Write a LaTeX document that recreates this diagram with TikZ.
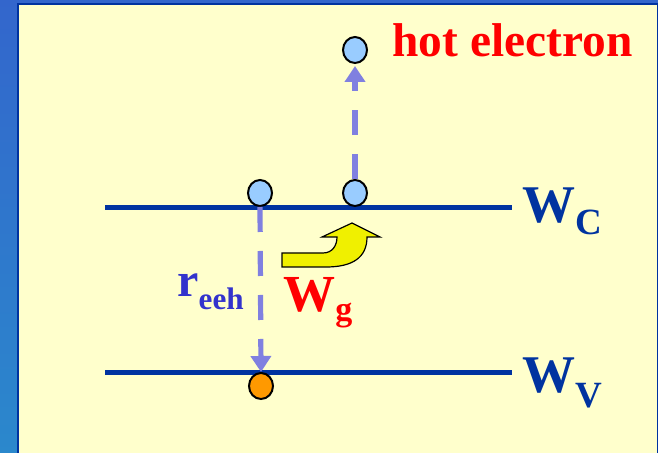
\documentclass[tikz,border=0pt]{standalone}
\usepackage{fontspec}
\setmainfont{Liberation Serif}
\usetikzlibrary{arrows.meta,shapes.geometric}
\definecolor{bandBlue}{RGB}{0,51,160}
\definecolor{labelBlue}{RGB}{51,51,204}
\definecolor{hopViolet}{RGB}{128,128,224}
\definecolor{elecFill}{RGB}{153,204,255}
\definecolor{holeFill}{RGB}{255,153,0}
\definecolor{slideYellow}{RGB}{255,255,204}
\definecolor{arrowYellow}{RGB}{240,240,0}
\begin{document}
\begin{tikzpicture}[
    x=0.5pt, y=-0.5pt,
    band/.style={line width=2.5pt, draw=bandBlue},
    carrier/.style={
        ellipse, draw=black, line width=1pt,
        minimum width=12pt, minimum height=13pt, inner sep=0pt
    },
    electron/.style={carrier, fill=elecFill},
    hole/.style={carrier, fill=holeFill},
    hop/.style={
        draw=hopViolet, line width=2.6pt,
        dash pattern=on 12.5pt off 9.5pt,
        -{Triangle[width=10pt,length=8pt]}
    },
    bigLabel/.style={anchor=base west, inner sep=0pt, font=\bfseries}
]
    \useasboundingbox (0,0) rectangle (658,453);

    % --- slide background ---
    \shade[top color={rgb,255:red,51;green,102;blue,204},
           bottom color={rgb,255:red,43;green,136;blue,204}]
        (0,0) rectangle (658,453);
    \fill[bandBlue] (17,3) rectangle (658,453);
    \fill[slideYellow] (19,5.5) rectangle (657,453);

    % --- band edges ---
    \coordinate (cL) at (105,208);
    \coordinate (cR) at (512,208);
    \coordinate (vL) at (105,373);
    \coordinate (vR) at (512,373);
    \draw[band] (cL) -- (cR);
    \draw[band] (vL) -- (vR);

    % --- carriers ---
    \node[electron] (e1) at (260,193) {};
    \node[electron] (e2) at (355,193) {};
    \node[electron] (hot) at (355,50) {};
    \node[hole] (h1) at (261,386) {};

    % --- transitions ---
    \draw[hop] (e2.north) -- ([yshift=-1pt]hot.south);
    \draw[hop] (e1.south) -- (h1.north);

    % --- energy transfer arrow ---
    \filldraw[fill=arrowYellow, draw=black, line width=0.6pt]
        (282,253) -- (323,253)
        .. controls (332,253) and (337,246) .. (337,237)
        -- (322,237) -- (352,223) -- (380,237) -- (367,237)
        .. controls (367,258) and (352,267) .. (326,267)
        -- (282,267) -- cycle;

    % --- labels ---
    \node[bigLabel, text=red, font=\fontsize{23.7}{24}\selectfont\bfseries]
        (hotLabel) at (392,57) {hot electron};
    \node[bigLabel, text=bandBlue, font=\fontsize{26.5}{27}\selectfont\bfseries]
        (wcLabel) at (522,223)
        {W{\fontsize{18.5}{19}\selectfont\raisebox{-6pt}{C}}};
    \node[bigLabel, text=bandBlue, font=\fontsize{26.5}{27}\selectfont\bfseries]
        (wvLabel) at (522,393)
        {W{\fontsize{18.5}{19}\selectfont\raisebox{-7.5pt}{V}}};
    \node[bigLabel, text=labelBlue, font=\fontsize{24}{24}\selectfont\bfseries]
        (reehLabel) at (177,297)
        {r{\fontsize{15.6}{16}\selectfont\raisebox{-6.5pt}{eeh}}};
    \node[bigLabel, text=red, font=\fontsize{26}{26}\selectfont\bfseries]
        (wgLabel) at (283,312)
        {W{\fontsize{17}{17}\selectfont\raisebox{-4.5pt}{g}}};
\end{tikzpicture}
\end{document}
